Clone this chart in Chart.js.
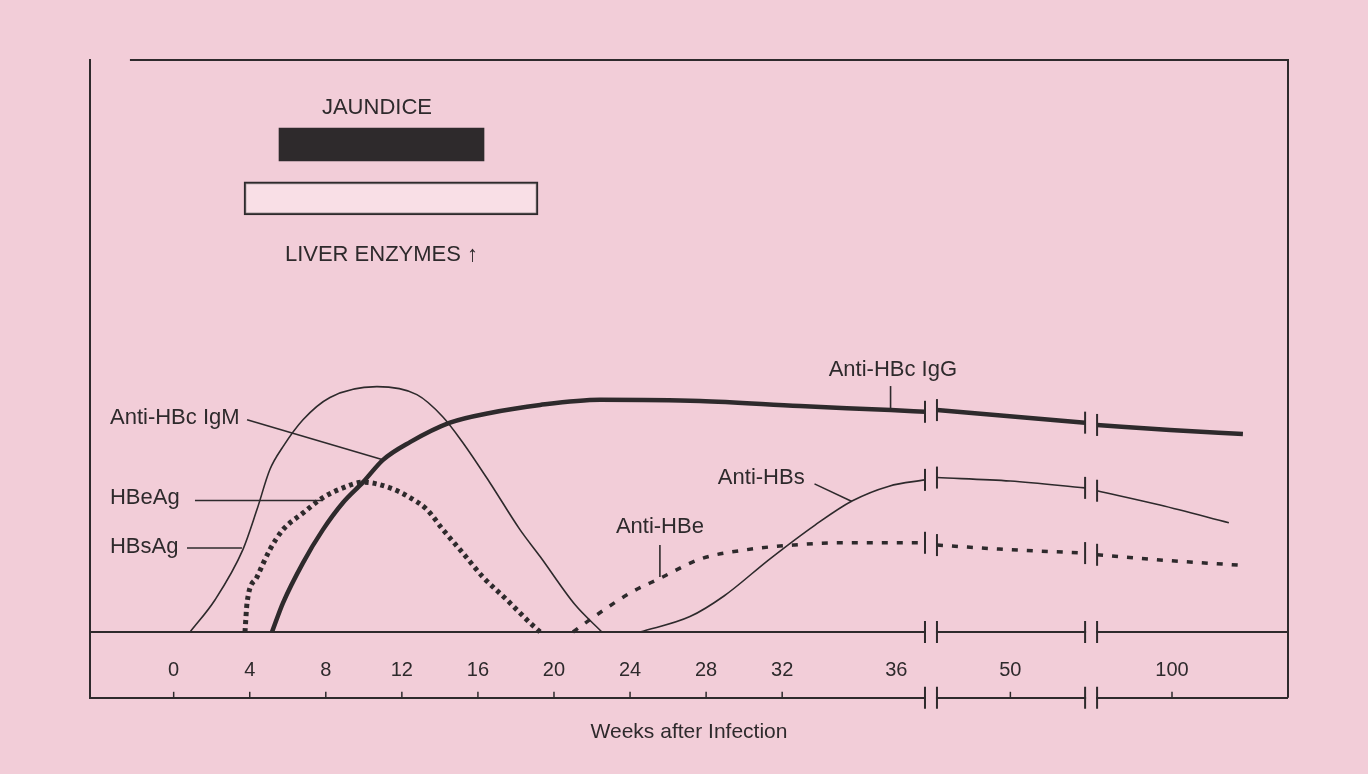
<!DOCTYPE html>
<html><head><meta charset="utf-8">
<script src="https://cdn.jsdelivr.net/npm/chart.js@4.4.1/dist/chart.umd.min.js"></script>
<style>html,body{margin:0;padding:0;background:#f2cdd8;overflow:hidden}#wrap{width:1368px;height:774px}</style>
</head><body><div id="wrap"><canvas id="c" width="1368" height="774"></canvas></div>
<script>
// ---- data (x in axis units: weeks for 0..32, compressed after breaks) ----
const tickPositions = [0,4,8,12,16,20,24,28,32,38,44,52.5];
const tickLabels = ['0','4','8','12','16','20','24','28','32','36','50','100'];
const bottomTickMarks = [0,4,8,12,16,20,24,28,32,44,52.5];
const breaks = [[39.51,40.14],[47.93,48.56]];
const xTitle = 'Weeks after Infection';

const hbsAg = [[0.86,0],[2.17,5.6],[3.64,14.4],[4.38,21.4],[5.06,28.4],[5.75,32.4],[6.8,37.1],[8.22,41.0],[10.69,42.9],[12.79,41.5],[14.16,37.6],[15.21,33.1],[16.63,26.1],[18.21,17.9],[19.27,13.2],[21.1,4.8],[22.52,0]];
const hbeAg = [[3.75,0],[3.86,5.1],[4.38,9.6],[5.06,14.4],[5.75,17.9],[6.8,20.8],[7.85,23.5],[8.9,25.2],[9.96,26.2],[11.37,25.2],[12.43,23.5],[13.32,21.4],[14.16,17.9],[15.21,13.8],[16.27,9.6],[17.53,5.6],[18.74,1.6],[19.27,0]];
const antiHBc = [[5.17,0],[5.75,5.1],[6.8,12.1],[7.85,17.9],[8.9,22.6],[9.96,26.2],[11.01,30.1],[12.43,33.2],[14.53,36.6],[16.63,38.3],[19.27,39.7],[22.42,40.6],[27.68,40.4],[32.94,39.5],[37.72,38.8],[39.51,38.5],[39.8,null],[40.14,38.8],[47.93,36.6],[48.2,null],[48.56,36.2],[52.4,35.3],[56.23,34.6]];
const antiHBs = [[24.52,0],[27.15,2.7],[28.94,6.3],[31.36,12.8],[33.73,18.7],[35.67,22.9],[37.62,25.5],[39.51,26.6],[39.8,null],[40.14,27.0],[44.0,26.4],[47.93,25.2],[48.2,null],[48.56,24.7],[51.87,22.2],[55.49,19.1]];
const antiHBe = [[21.0,0],[22.16,2.8],[24.1,7.0],[25.52,9.3],[27.73,12.8],[30.15,14.4],[32.57,15.2],[34.93,15.6],[39.51,15.6],[39.8,null],[40.14,15.2],[43.4,14.5],[47.93,13.8],[48.2,null],[48.56,13.5],[51.87,12.6],[55.97,11.7]];
const jaundice = [5.54,16.32];
const liverEnzymes = [3.70,19.16];

// ---- annotations ----
const annoTexts = [
 {text:'JAUNDICE', x:10.69, y:91.6, align:'center'},
 {text:'LIVER ENZYMES \u2191', x:5.85, y:65.9, align:'left'},
 {text:'Anti-HBc IgM', x:-3.35, y:37.4, align:'left'},
 {text:'HBeAg', x:-3.35, y:23.5, align:'left'},
 {text:'HBsAg', x:-3.35, y:14.9, align:'left'},
 {text:'Anti-HBc IgG', x:37.82, y:45.8, align:'center'},
 {text:'Anti-HBs', x:30.9, y:27.0, align:'center'},
 {text:'Anti-HBe', x:25.57, y:18.4, align:'center'}
];
const leaders = [
 [[3.86,37.1],[11.0,30.1]],
 [[1.12,23.0],[7.86,23.0]],
 [[0.70,14.7],[3.59,14.7]],
 [[37.7,43.0],[37.7,38.9]],
 [[33.7,25.9],[35.67,22.8]],
 [[25.57,15.2],[25.57,9.6]]
];

const INK = '#2e2a2c';
const BG = '#f2cdd8';
const FONT = '"Liberation Sans", Arial, sans-serif';
const pts = a => a.map(p => ({x:p[0], y:p[1]}));

const bgPlugin = {
  id:'bg',
  beforeDraw(chart){ const c=chart.ctx; c.save(); c.fillStyle=BG; c.fillRect(0,0,chart.width,chart.height); c.restore(); }
};

const decoPlugin = {
  id:'deco',
  afterDatasetsDraw(chart){
    const c = chart.ctx, xs = chart.scales.x, ys = chart.scales.y, a = chart.chartArea;
    c.save();
    c.strokeStyle = INK; c.fillStyle = INK; c.lineCap='butt';
    // frame: top and right
    c.lineWidth = 2;
    c.beginPath(); c.moveTo(xs.getPixelForValue(-2.3), a.top); c.lineTo(a.right, a.top); c.lineTo(a.right, a.bottom); c.stroke();
    // bottom tick marks
    c.lineWidth = 1.5;
    bottomTickMarks.forEach(v => { const px = xs.getPixelForValue(v); c.beginPath(); c.moveTo(px, a.bottom); c.lineTo(px, a.bottom-6); c.stroke(); });
    // breaks on baseline and bottom line
    const y0 = ys.getPixelForValue(0);
    breaks.forEach(b => {
      const xl = xs.getPixelForValue(b[0]), xr = xs.getPixelForValue(b[1]);
      [y0, a.bottom].forEach(yy => {
        c.fillStyle = BG; c.fillRect(xl+1, yy-4, xr-xl-2, 8);
        c.lineWidth = 2; c.beginPath();
        c.moveTo(xl, yy-11); c.lineTo(xl, yy+11); c.moveTo(xr, yy-11); c.lineTo(xr, yy+11); c.stroke();
      });
    });
    // break caps on series
    chart.data.datasets.forEach((ds, i) => {
      if (!ds.breakCaps) return;
      const meta = chart.getDatasetMeta(i);
      ds.data.forEach((d, j) => {
        if (d.y !== null) return;
        [meta.data[j-1], meta.data[j+1]].forEach(p => {
          if (!p) return;
          c.lineWidth = 2; c.beginPath(); c.moveTo(p.x, p.y-11); c.lineTo(p.x, p.y+11); c.stroke();
        });
      });
    });
    // leader lines
    c.lineWidth = 1.6;
    leaders.forEach(l => {
      c.beginPath();
      c.moveTo(xs.getPixelForValue(l[0][0]), ys.getPixelForValue(l[0][1]));
      c.lineTo(xs.getPixelForValue(l[1][0]), ys.getPixelForValue(l[1][1]));
      c.stroke();
    });
    // labels
    c.fillStyle = INK; c.font = '22px ' + FONT; c.textBaseline = 'middle';
    annoTexts.forEach(t => { c.textAlign = t.align; c.fillText(t.text, xs.getPixelForValue(t.x), ys.getPixelForValue(t.y)); });
    c.restore();
  }
};

new Chart(document.getElementById('c'), {
  type: 'line',
  data: { datasets: [
    {label:'Jaundice', type:'bar', indexAxis:'y', data:[{y:85.23, x:jaundice}], backgroundColor:INK, borderColor:INK, borderWidth:0, barThickness:33, grouped:false, order:5},
    {label:'Liver enzymes', type:'bar', indexAxis:'y', data:[{y:75.8, x:liverEnzymes}], backgroundColor:'rgba(255,238,243,0.55)', borderColor:INK, borderWidth:2, borderSkipped:false, barThickness:33, grouped:false, order:5},
    {label:'HBsAg', data:pts(hbsAg), borderColor:INK, borderWidth:1.6, pointRadius:0, cubicInterpolationMode:'monotone', spanGaps:false},
    {label:'HBeAg', data:pts(hbeAg), borderColor:INK, borderWidth:5, borderDash:[4,4], pointRadius:0, cubicInterpolationMode:'monotone', spanGaps:false},
    {label:'Anti-HBc', data:pts(antiHBc), borderColor:INK, borderWidth:4.5, pointRadius:0, cubicInterpolationMode:'monotone', spanGaps:false, breakCaps:true},
    {label:'Anti-HBs', data:pts(antiHBs), borderColor:INK, borderWidth:1.6, pointRadius:0, cubicInterpolationMode:'monotone', spanGaps:false, breakCaps:true},
    {label:'Anti-HBe', data:pts(antiHBe), borderColor:INK, borderWidth:3.5, borderDash:[6,9], pointRadius:0, cubicInterpolationMode:'monotone', spanGaps:false, breakCaps:true}
  ]},
  options: {
    responsive:false, animation:false, events:[],
    layout:{padding:{left:90, right:80, top:60, bottom:0}},
    plugins:{
      legend:{display:false}, tooltip:{enabled:false},
      title:{display:true, position:'bottom', text:xTitle, color:INK, font:{family:FONT, size:21, weight:'normal'}, padding:{top:22, bottom:29}}
    },
    scales:{
      x:{type:'linear', min:-4.4, max:58.6, offset:false, position:{y:0},
         grid:{display:false}, border:{display:true, color:INK, width:2},
         afterBuildTicks: s => { s.ticks = tickPositions.map(v => ({value:v})); },
         ticks:{autoSkip:false, maxRotation:0, padding:18, color:INK, font:{family:FONT, size:20}, callback:(v,i) => tickLabels[i]}},
      y:{type:'linear', min:-11.5, max:100, offset:false,
         ticks:{display:false}, border:{display:true, color:INK, width:2},
         grid:{drawTicks:false, offset:false, color:INK, lineWidth:2},
         afterBuildTicks: s => { s.ticks = [{value:-11.5}]; }}
    }
  },
  plugins:[bgPlugin, decoPlugin]
});
</script></body></html>
